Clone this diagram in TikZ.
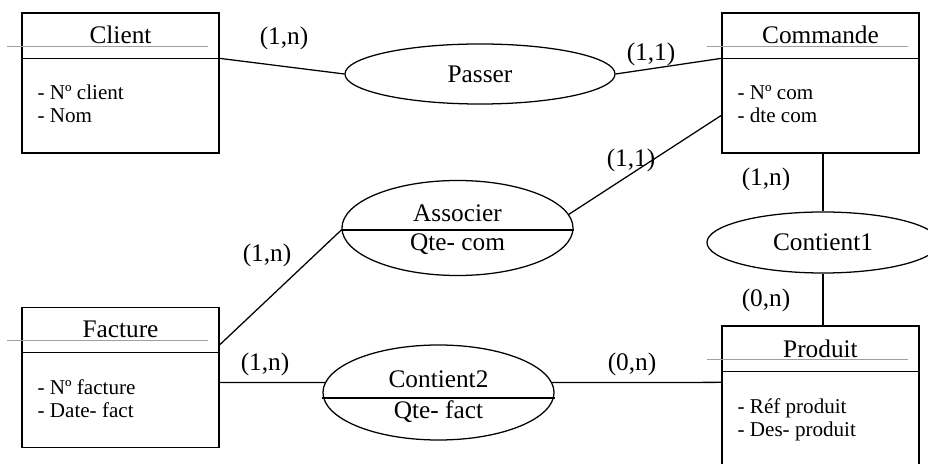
\documentclass[tikz,border=0pt]{standalone}
\usepackage{fontspec}
\setmainfont{Liberation Serif}
\usetikzlibrary{shapes.geometric}

\begin{document}
\begin{tikzpicture}[x=0.025cm, y=-0.025cm,
  entite/.style={draw, line width=0.9pt, minimum width=4.925cm, minimum height=3.5cm, inner sep=0pt},
  relation/.style={draw, ellipse, line width=0.9pt, inner sep=0pt, font=\fontsize{18}{21}\selectfont},
  titre/.style={anchor=base, inner sep=0pt, font=\fontsize{18}{21}\selectfont},
  attr/.style={anchor=base west, align=left, inner sep=0pt, font=\fontsize{15}{16.4}\selectfont},
  card/.style={inner sep=0pt, font=\fontsize{18}{21}\selectfont},
  regle/.style={gray!75, line width=0.6pt},
  trait/.style={line width=0.9pt}]

\useasboundingbox (0,0) rectangle (928,464);

% Entities
\node[entite] (client) at (120.5,83) {};
\node[entite] (commande) at (820.5,83) {};
\node[entite] (facture) at (120.5,377.5) {};
\node[entite, minimum height=3.7cm] (produit) at (820.5,400) {};

\foreach \e in {client,commande,facture,produit} {
  \draw[trait] ([yshift=-1.15cm]\e.north west) -- ([yshift=-1.15cm]\e.north east);
  \draw[regle] ([xshift=-0.35cm,yshift=-0.85cm]\e.north west) -- ([xshift=-0.3cm,yshift=-0.85cm]\e.north east);
}

% Entity titles
\node[titre] (client-t) at ([yshift=-0.775cm]client.north) {Client};
\node[titre] (commande-t) at ([yshift=-0.775cm]commande.north) {Commande};
\node[titre] (facture-t) at ([yshift=-0.775cm]facture.north) {Facture};
\node[titre] (produit-t) at ([yshift=-0.8cm]produit.north) {Produit};

% Attributes (anchored on the last line)
\node[attr] (client-a) at ([xshift=0.4cm,yshift=-2.75cm]client.north west) {- Nº client\\- Nom};
\node[attr] (commande-a) at ([xshift=0.4cm,yshift=-2.75cm]commande.north west) {- Nº com\\- dte com};
\node[attr] (facture-a) at ([xshift=0.4cm,yshift=-2.775cm]facture.north west) {- Nº facture\\- Date- fact};
\node[attr] (produit-a) at ([xshift=0.4cm,yshift=-2.775cm]produit.north west) {- Réf produit\\- Des- produit};

% Associations
\node[relation, minimum width=6.75cm, minimum height=1.5cm] (passer) at (480,74) {Passer};
\node[relation, minimum width=5.775cm, minimum height=2.375cm] (associer) at (457.5,228) {};
\node[relation, minimum width=5.8cm, minimum height=1.525cm] (contient1) at (823,242.5) {Contient1};
\node[relation, minimum width=5.775cm, minimum height=2.375cm] (contient2) at (438.5,392.5) {};

\coordinate (associer-m) at ([yshift=-0.05cm]associer.center);
\coordinate (contient2-m) at ([yshift=-0.1375cm]contient2.center);
\draw[trait] (associer-m -| associer.west) -- (associer-m -| associer.east);
\draw[trait] (contient2-m -| contient2.west) -- (contient2-m -| contient2.east);
\node[titre] (associer-t) at ([yshift=0.2cm]associer-m) {Associer};
\node[titre] (associer-q) at ([yshift=-0.5cm]associer-m) {Qte- com};
\node[titre] (contient2-t) at ([yshift=0.25cm]contient2-m) {Contient2};
\node[titre] (contient2-q) at ([yshift=-0.5cm]contient2-m) {Qte- fact};

% Connection points
\coordinate (client-p) at ([yshift=-1.15cm]client.north east);
\coordinate (commande-p) at ([yshift=-1.15cm]commande.north west);
\coordinate (commande-s) at ([yshift=-2.575cm]commande.north west);
\coordinate (facture-s) at ([yshift=-0.95cm]facture.north east);
\coordinate (facture-c) at ([yshift=-1.89cm]facture.north east);
\coordinate (produit-c) at ([yshift=-1.425cm]produit.north west);

% Links
\draw[trait] (client-p) -- (passer.west);
\draw[trait] (passer.east) -- (commande-p);
\draw[trait] (facture-s) -- (associer-m -| associer.west);
\draw[trait] (associer.7) -- (commande-s);
\draw[trait] (commande.south -| contient1.north) -- (contient1.north);
\draw[trait] (contient1.south) -- (contient1.south |- produit.north);
\draw[trait] (facture-c) -- (contient2.175);
\draw[trait] (contient2.5) -- (produit-c);

% Cardinalities
\node[card] (card-cp) at (284,38) {(1,n)};
\node[card] (card-pc) at (651,54) {(1,1)};
\node[card] (card-ac) at (631,160) {(1,1)};
\node[card] (card-cc) at (766,179) {(1,n)};
\node[card] (card-cpr) at (766,300) {(0,n)};
\node[card] (card-fa) at (267,255) {(1,n)};
\node[card] (card-fc) at (265,364) {(1,n)};
\node[card] (card-cpd) at (632,364) {(0,n)};

\end{tikzpicture}
\end{document}
